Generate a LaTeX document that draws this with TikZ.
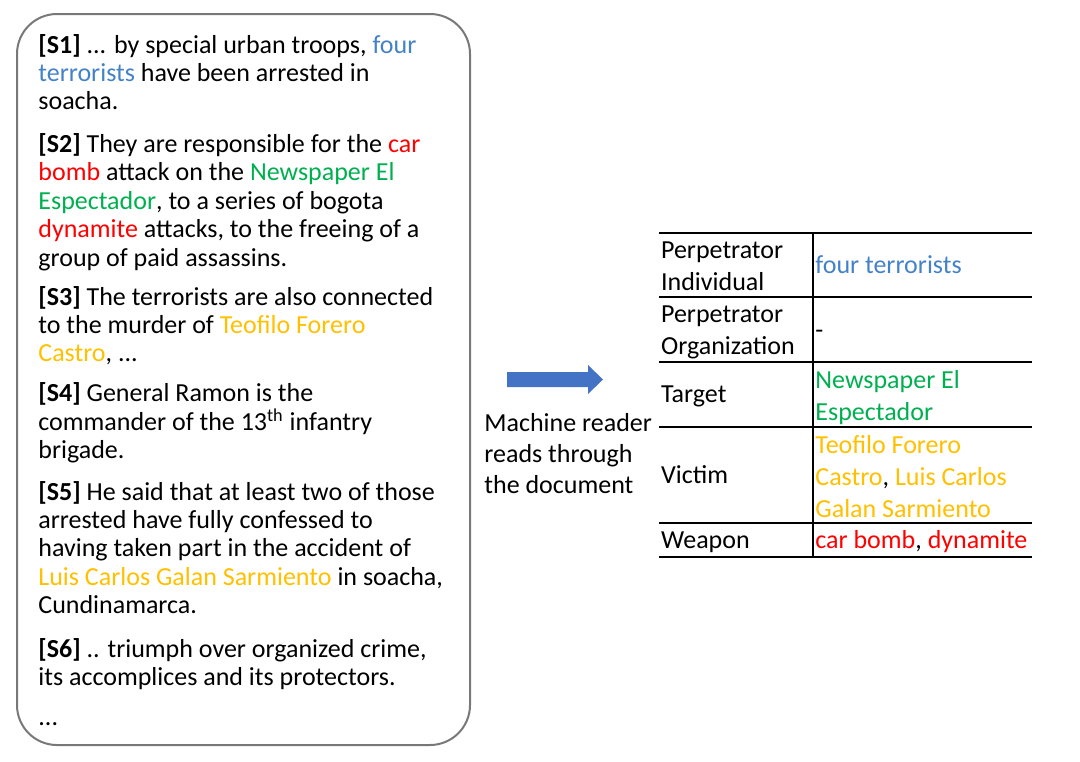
\documentclass[tikz,border=0pt]{standalone}
\usepackage{fontspec}
\setmainfont{Carlito}
\definecolor{entblue}{RGB}{68,130,200}
\definecolor{entred}{RGB}{255,0,0}
\definecolor{entgreen}{RGB}{0,176,80}
\definecolor{entgold}{RGB}{255,192,0}
\definecolor{arrowblue}{RGB}{68,114,196}
\definecolor{boxgray}{RGB}{120,120,120}
\begin{document}
\begin{tikzpicture}[x=0.5pt, y=-0.5pt,
  doctext/.style={anchor=base west, inner sep=0pt, align=left, font=\fontsize{13}{14.2}\selectfont},
  celltext/.style={anchor=base west, inner sep=0pt, align=left, font=\fontsize{13}{16}\selectfont},
  tabrule/.style={black, line width=1pt},
  docbox/.style={boxgray, line width=1pt, rounded corners=20pt},
  readarrow/.style={fill=arrowblue}]
\useasboundingbox (0,0) rectangle (1080,761);
% ---- document (left): sentences S1..S6 in a rounded box ----
% (nodes sit on the baseline of their last line)
\draw[docbox] (17,14) rectangle (470,745);
\node[doctext] (s1) at (38,109.8)
 {\textbf{[S1]} ... by special urban troops, \textcolor{entblue}{four}\\
  \textcolor{entblue}{terrorists} have been arrested in\\
  soacha.};
\node[doctext] (s2) at (38,266.1)
 {\textbf{[S2]} They are responsible for the \textcolor{entred}{car}\\
  \textcolor{entred}{bomb} attack on the \textcolor{entgreen}{Newspaper El}\\
  \textcolor{entgreen}{Espectador}, to a series of bogota\\
  \textcolor{entred}{dynamite} attacks, to the freeing of a\\
  group of paid assassins.};
\node[doctext] (s3) at (38,361.8)
 {\textbf{[S3]} The terrorists are also connected\\
  to the murder of \textcolor{entgold}{Teofilo Forero}\\
  \textcolor{entgold}{Castro}, ...};
\node[doctext] (s4) at (38,458.5)
 {\textbf{[S4]} General Ramon is the\\
  commander of the 13\textsuperscript{th} infantry\\
  brigade.};
\node[doctext] (s5) at (38,613.6)
 {\textbf{[S5]} He said that at least two of those\\
  arrested have fully confessed to\\
  having taken part in the accident of\\
  \textcolor{entgold}{Luis Carlos Galan Sarmiento} in soacha,\\
  Cundinamarca.};
\node[doctext] (s6) at (38,685.4)
 {\textbf{[S6]} .. triumph over organized crime,\\
  its accomplices and its protectors.};
\node[doctext] (more) at (38,725) {...};
% ---- machine reader arrow ----
\fill[readarrow] (507,372) -- (588,372) -- (588,365) -- (603,379.5)
  -- (588,394) -- (588,387) -- (507,387) -- cycle;
\node[anchor=base west, inner sep=0pt, align=left, font=\fontsize{13}{15.5}\selectfont]
  (reader) at (484,493.5) {Machine reader\\reads through\\the document};
% ---- extracted template (right) ----
\foreach \ry in {232.5,297,362,427,523,557}
  \draw[tabrule] (659,\ry) -- (1032,\ry);
\draw[tabrule] (813.3,232.5) -- (813.3,557);
\node[celltext] (l1) at (660.7,290.3) {Perpetrator\\Individual};
\node[celltext] (l2) at (660.7,354.3) {Perpetrator\\Organization};
\node[celltext] (l3) at (660.7,402.7) {Target};
\node[celltext] (l4) at (660.7,483.3) {Victim};
\node[celltext] (l5) at (660.7,548.3) {Weapon};
\node[celltext] (v1) at (815,273.3) {\textcolor{entblue}{four terrorists}};
\node[celltext] (v2) at (815,338) {-};
\node[celltext] (v3) at (815,420.3)
 {\textcolor{entgreen}{Newspaper El}\\\textcolor{entgreen}{Espectador}};
\node[celltext] (v4) at (815,517.3)
 {\textcolor{entgold}{Teofilo Forero}\\
  \textcolor{entgold}{Castro}, \textcolor{entgold}{Luis Carlos}\\
  \textcolor{entgold}{Galan Sarmiento}};
\node[celltext] (v5) at (815,548.3)
 {\textcolor{entred}{car bomb}, \textcolor{entred}{dynamite}};
\end{tikzpicture}
\end{document}
